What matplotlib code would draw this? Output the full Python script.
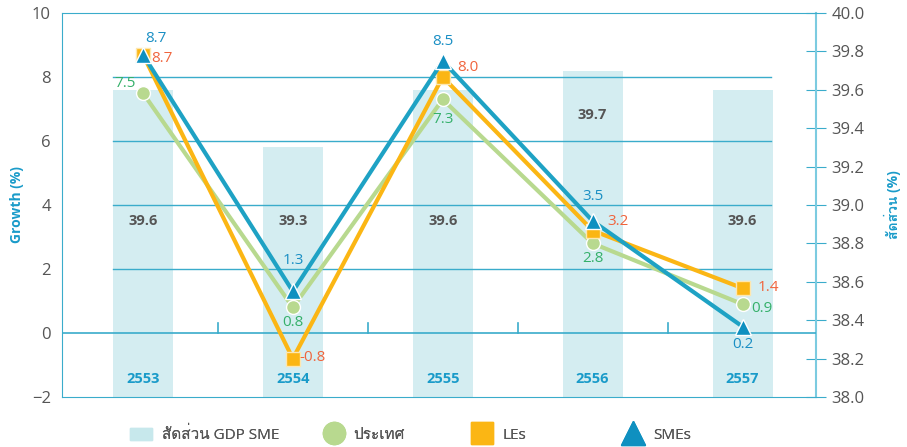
import matplotlib
matplotlib.use("Agg")
import matplotlib.pyplot as plt
from matplotlib import font_manager
from matplotlib.ft2font import FT2Font
from matplotlib.lines import Line2D
from matplotlib.patches import Patch

# data
years = ["2553", "2554", "2555", "2556", "2557"]
share = [39.6, 39.3, 39.6, 39.7, 39.6]
country = [7.5, 0.8, 7.3, 2.8, 0.9]
les = [8.7, -0.8, 8.0, 3.2, 1.4]
smes = [8.7, 1.3, 8.5, 3.5, 0.2]


# find a font that has Thai glyphs
def find_thai_font():
    for f in font_manager.fontManager.ttflist:
        try:
            ft = FT2Font(f.fname)
            if ft.get_char_index(0x0E2A) and ft.get_char_index(0x0E14):
                return f.name
        except Exception:
            pass
    return None


thai = find_thai_font()
fams = ["Open Sans"]
if thai:
    fams.append(thai)
fams.append("DejaVu Sans")
plt.rcParams["font.family"] = fams

BLUE = "#1a9bc9"
GRAY = "#555555"
GRID = "#3aaccb"

fig = plt.figure(figsize=(9.07, 4.47), dpi=100)
ax = fig.add_axes([62 / 907, 50 / 447, 754 / 907, 384 / 447])
ax2 = ax.twinx()

x = list(range(len(years)))

# bars on the right axis, drawn behind the lines
ax2.bar(x, [s - 38.0 for s in share], bottom=38.0, width=0.4, color="#d4edf1", zorder=1)
ax2.set_ylim(38.0, 40.0)
ax2.set_yticks([38.0 + 0.2 * i for i in range(11)])
ax2.set_yticklabels(["%.1f" % (38.0 + 0.2 * i) for i in range(11)])
ax.set_zorder(ax2.get_zorder() + 1)
ax.patch.set_visible(False)

ax.set_xlim(-0.54, 4.49)
ax.set_ylim(-2, 10)
ax.set_yticks(range(-2, 11, 2))

# grid lines only across the bar area
for g in [2, 4, 6, 8]:
    ax.plot([-0.2, 4.19], [g, g], color=GRID, lw=1, zorder=1)
ax.axhline(0, color=GRID, lw=1.2, zorder=1)
for b in [0.5, 1.5, 2.5, 3.5]:
    ax.plot([b, b], [0, 0.3], color=GRID, lw=1.2, zorder=1)

# lines
ax.plot(x, country, color="#b8d98f", lw=3, marker="o", ms=10,
        mfc="#b8d98f", mec="white", mew=1, zorder=3)
ax.plot(x, les, color="#fbb614", lw=3, marker="s", ms=10,
        mfc="#fbb614", mec="#fde7b0", mew=1, zorder=4)
ax.plot(x, smes, color="#1ea2c4", lw=3, marker="^", ms=12,
        mfc="#0f90c0", mec="white", mew=1, zorder=5)

# value labels: (dx, dy) offsets from each point
c_green = "#35b06a"
c_orange = "#f0643c"
c_blue = "#1a8fc4"
green_off = [(-0.12, 0.31), (0, -0.46), (0, -0.64), (0, -0.46), (0.13, -0.15)]
orange_off = [(0.13, -0.11), (0.13, 0.02), (0.17, 0.31), (0.17, 0.27), (0.17, 0.01)]
blue_off = [(0.09, 0.49), (0, 0.98), (0, 0.6), (0, 0.75), (0, -0.57)]
for vals, offs, col in [(country, green_off, c_green), (les, orange_off, c_orange),
                        (smes, blue_off, c_blue)]:
    for i in x:
        ax.text(i + offs[i][0], vals[i] + offs[i][1], "%.1f" % vals[i], color=col,
                fontsize=11, ha="center", va="center", zorder=6)

# share labels and years
share_y = [3.5, 3.5, 3.5, 6.8, 3.5]
for i in x:
    ax.text(i, share_y[i], "%.1f" % share[i], color=GRAY, fontsize=10.5,
            fontweight="bold", ha="center", va="center", zorder=2)
    ax.text(i, -1.45, years[i], color=BLUE, fontsize=10.5,
            fontweight="bold", ha="center", va="center", zorder=2)

# spines and ticks
for a in (ax, ax2):
    for s in ["left", "bottom", "top", "right"]:
        a.spines[s].set_visible(False)
for s in ["left", "bottom", "top"]:
    ax.spines[s].set_visible(True)
    ax.spines[s].set_color(GRID)
ax2.spines["right"].set_visible(True)
ax2.spines["right"].set_color("#7ccbe0")
ax2.spines["right"].set_linewidth(1.5)

ax.set_xticks([])
ax.tick_params(axis="y", length=0, labelsize=12, labelcolor=GRAY, pad=8)
ax2.tick_params(axis="y", direction="inout", length=14, color=GRID,
                labelsize=12, labelcolor=GRAY, pad=4)

ax.set_ylabel("Growth (%)", color=BLUE, fontsize=10, fontweight="bold", labelpad=6)
ax2.set_ylabel("สัดส่วน (%)", color=BLUE, fontsize=10, fontweight="bold",
               rotation=90, labelpad=14)

# legend, one entry at a time so the spacing matches
items = [
    (Patch(color="#c7e8ec"), "สัดส่วน GDP SME", 141, 0.65),
    (Line2D([], [], ls="", marker="o", ms=16, color="#b8d98f"), "ประเทศ", 334, 0.5),
    (Line2D([], [], ls="", marker="s", ms=16, color="#fbb614"), "LEs", 482, 0.62),
    (Line2D([], [], ls="", marker="^", ms=17, color="#0f90c0"), "SMEs", 633, 0.55),
]
for h, lab, cx, pad in items:
    leg = fig.legend([h], [lab], loc="center left", frameon=False,
                     bbox_to_anchor=((cx - 11.5) / 907, 1 - 435 / 447),
                     fontsize=11, labelcolor=GRAY, borderpad=0, borderaxespad=0,
                     handlelength=1.5, handleheight=0.8, handletextpad=pad)
    fig.add_artist(leg)

fig.savefig("out.png", dpi=100)
